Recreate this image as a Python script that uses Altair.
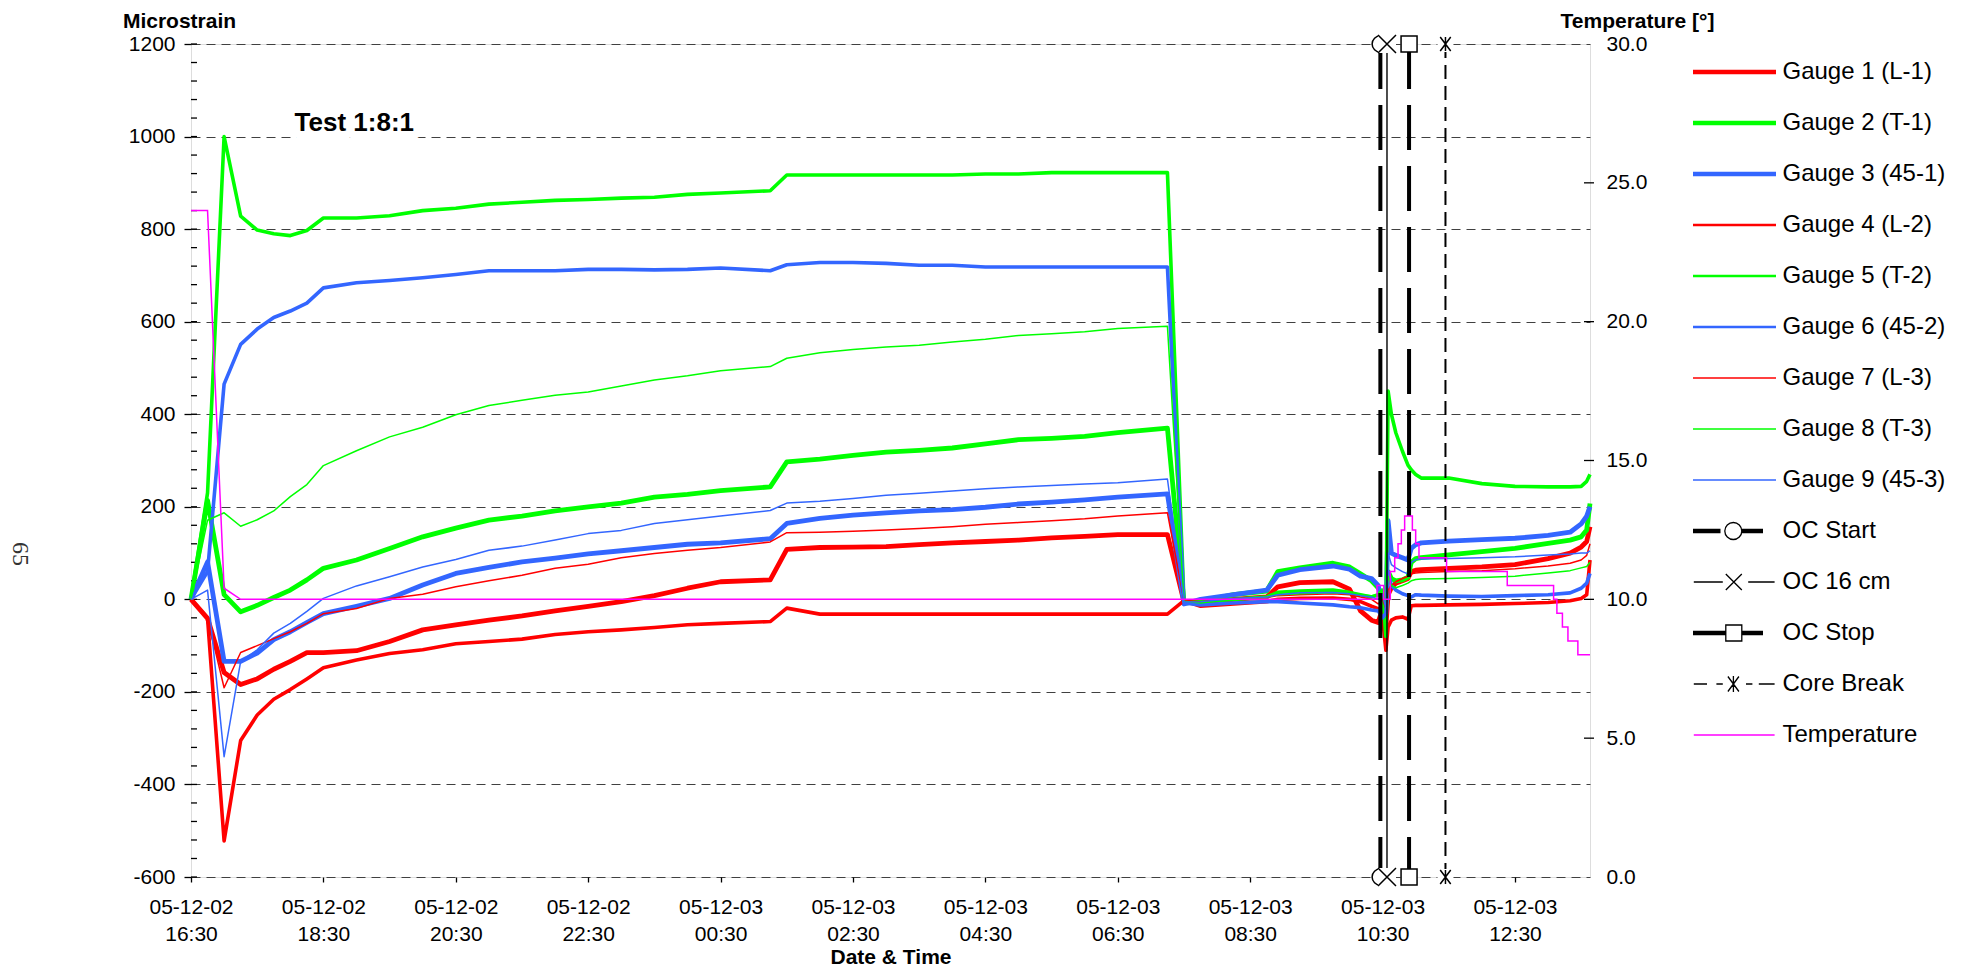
import altair as alt
import pandas as pd

# ---------------- data ----------------
SERIES = ["Gauge 1 (L-1)", "Gauge 2 (T-1)", "Gauge 3 (45-1)",
          "Gauge 4 (L-2)", "Gauge 5 (T-2)", "Gauge 6 (45-2)",
          "Gauge 7 (L-3)", "Gauge 8 (T-3)", "Gauge 9 (45-3)",
          "OC Start", "OC 16 cm", "OC Stop", "Core Break", "Temperature"]
SERIES_COLORS = ["#ff0000", "#00ff00", "#3366ff",
                 "#ff0000", "#00ff00", "#3366ff",
                 "#ff0000", "#00ff00", "#3366ff",
                 "#000000", "#000000", "#000000", "#000000", "#ff00ff"]

# 15-minute readings before the reset, then the dense record after it
E_TIMES = ["16:30", "16:45", "17:00", "17:15", "17:30", "17:45", "18:00", "18:15", "18:30",
           "19:00", "19:30", "20:00", "20:30", "21:00", "21:30", "22:00", "22:30", "23:00",
           "23:30", "00:00", "00:30", "01:15", "01:30", "02:00", "02:30", "03:00", "03:30",
           "04:00", "04:30", "05:00", "05:30", "06:00", "06:30", "07:15", "07:30"]
D_TIMES = ["07:45", "08:15", "08:45", "08:55", "09:15", "09:45", "10:00", "10:10", "10:20",
           "10:26", "10:30", "10:33", "10:35", "10:38", "10:42", "10:48", "10:53", "10:56",
           "11:00", "11:05", "11:30", "12:00", "12:30", "13:00", "13:20", "13:30", "13:35", "13:38"]

G1_E = [0, -41, -158, -184, -172, -151, -134, -115, -115, -111, -91, -66, -55, -45, -36, -25, -15, -5,
        8, 24, 38, 42, 108, 112, 113, 114, 118, 122, 125, 128, 133, 136, 140, 140, -5]
G1_D = [-8, 0, 5, 27, 36, 38, 22, -25, -45, -50, -20, -60, 10, 25, 35, 40, 45, 60, 63, 64, 67, 70,
        75, 88, 100, 113, 125, 157]
G2_E = [0, 214, 10, -27, -13, 4, 20, 42, 67, 85, 110, 135, 154, 171, 180, 191, 200, 208, 221, 227,
        235, 243, 297, 303, 311, 318, 322, 327, 336, 345, 348, 352, 360, 370, -8]
G2_D = [-5, 10, 18, 60, 68, 78, 70, 55, 40, 25, 10, -20, 60, 45, 40, 42, 48, 80, 88, 90, 96, 103,
        110, 121, 128, 135, 150, 207]
G3_E = [0, 81, -134, -134, -116, -87, -70, -50, -31, -15, 2, 31, 56, 69, 81, 89, 98, 105, 112, 119,
        122, 131, 164, 175, 182, 187, 191, 194, 199, 206, 210, 215, 221, 228, -10]
G3_D = [0, 10, 20, 52, 64, 72, 65, 50, 45, 30, -10, -30, 170, 100, 95, 90, 85, 110, 118, 122, 126,
        129, 132, 138, 145, 163, 180, 200]
G4_E = [0, -41, -522, -305, -250, -216, -195, -172, -148, -131, -117, -109, -96, -91, -86, -76, -70,
        -66, -61, -55, -52, -48, -19, -32, -32, -32, -32, -32, -32, -32, -32, -32, -32, -32, -3]
G4_D = [-15, -10, -5, 0, 2, 3, 0, -5, -15, -20, -40, -110, -60, -45, -40, -38, -43, -14, -13, -13,
        -12, -11, -9, -7, -3, 2, 10, 85]
G5_E = [0, 230, 1000, 828, 798, 790, 786, 797, 824, 824, 829, 840, 845, 854, 858, 862, 864, 867, 869,
        875, 878, 883, 917, 917, 917, 917, 917, 917, 919, 919, 922, 922, 922, 922, -5]
G5_D = [-5, 0, 5, 15, 18, 20, 15, 10, 5, 10, 20, -80, 450, 400, 360, 320, 290, 280, 270, 262, 262,
        250, 244, 243, 243, 244, 255, 270]
G6_E = [0, 60, 465, 551, 584, 609, 623, 640, 673, 684, 689, 695, 702, 710, 710, 710, 713, 713, 712,
        713, 716, 710, 723, 728, 728, 726, 722, 722, 718, 718, 718, 718, 718, 718, -8]
G6_D = [-12, -8, -5, -5, -8, -12, -16, -18, -23, -25, -40, -30, 60, 30, 20, 12, 8, 5, 10, 9, 7, 6, 8,
        10, 14, 24, 35, 56]
G7_E = [0, -41, -191, -115, -100, -85, -70, -52, -31, -20, 2, 11, 27, 40, 52, 67, 76, 90, 99, 106,
        112, 124, 144, 145, 147, 150, 153, 157, 162, 166, 170, 174, 180, 187, -2]
G7_D = [-5, 2, 4, 8, 10, 12, 10, 5, 0, -10, 0, -20, 20, 30, 38, 45, 50, 55, 57, 58, 60, 62, 66, 72,
        78, 85, 95, 120]
G8_E = [0, 171, 187, 158, 172, 191, 222, 248, 289, 321, 351, 372, 399, 419, 430, 441, 448, 461, 474,
        483, 494, 503, 521, 533, 540, 545, 549, 556, 562, 570, 574, 578, 585, 590, -4]
G8_D = [-8, 0, 5, 10, 12, 14, 12, 10, 8, 10, 5, -10, 50, 30, 25, 30, 35, 40, 43, 44, 45, 47, 50, 57,
        62, 68, 71, 80]
G9_E = [0, 20, -340, -134, -109, -73, -52, -26, 2, 29, 49, 70, 86, 106, 115, 128, 142, 149, 164, 172,
        180, 192, 208, 212, 218, 225, 229, 234, 239, 243, 246, 249, 252, 260, -6]
G9_D = [-5, 2, 5, 10, 14, 15, 12, 8, 5, 0, 10, -20, 100, 75, 68, 60, 55, 80, 86, 87, 88, 90, 92, 96,
        98, 100, 100, 105]

TEMP_TIMES = ["16:30", "16:45", "17:00", "17:15", "10:25", "10:25", "10:31", "10:31", "10:37", "10:37",
              "10:41", "10:41", "10:44", "10:44", "10:47", "10:47", "10:50", "10:50", "10:57", "10:57",
              "11:00", "11:00", "11:03", "11:03", "11:28", "11:28", "12:23", "12:23", "13:05", "13:05",
              "13:08", "13:08", "13:13", "13:13", "13:18", "13:18", "13:27", "13:27", "13:38"]
TEMP_VALUES = [24.0, 24.0, 10.4, 10.0, 10.0, 10.5, 10.5, 10.0, 10.0, 11.0, 11.0, 11.5, 11.5, 12.0,
               12.0, 12.5, 12.5, 13.0, 13.0, 12.5, 12.5, 12.0, 12.0, 11.5, 11.5, 11.0, 11.0, 10.5,
               10.5, 10.0, 10.0, 9.5, 9.5, 9.0, 9.0, 8.5, 8.5, 8.0, 8.0]

OC_EVENTS = ["OC Start", "OC 16 cm", "OC Stop", "Core Break"]
OC_TIMES = ["10:28", "10:34", "10:54", "11:27"]

X_DOMAIN = ["16:30", "13:38"]
X_TICKS = ["16:30", "18:30", "20:30", "22:30", "00:30", "02:30", "04:30", "06:30", "08:30", "10:30", "12:30"]
Y_DOMAIN = [-600, 1200]
Y_TICKS = [-600, -400, -200, 0, 200, 400, 600, 800, 1000, 1200]
Y_MINOR = list(range(-600, 1201, 40))
T_DOMAIN = [0, 30]
T_TICKS = [0, 5, 10, 15, 20, 25, 30]
T_INNER_TICKS = [5, 10, 15, 20, 25]

ANNOT_TEXT = ["Test 1:8:1"]
ANNOT_TIME = ["18:58"]
ANNOT_VALUE = [1030]
PAGE_NUMBER = "65"


# ---------------- helpers ----------------
def stamp(hm):
    h = int(hm[:2])
    day = "02" if h >= 16 else "03"
    return f"2005-12-{day}T{hm}:00"


def dt(hm):
    h, m = (int(p) for p in hm.split(":"))
    return alt.DateTime(year=2005, month=12, date=2 if h >= 16 else 3, hours=h, minutes=m)


TIMES = E_TIMES + D_TIMES
GAUGES = [G1_E + G1_D, G2_E + G2_D, G3_E + G3_D, G4_E + G4_D, G5_E + G5_D,
          G6_E + G6_D, G7_E + G7_D, G8_E + G8_D, G9_E + G9_D]
rows = []
for name, vals in zip(SERIES[:9], GAUGES):
    assert len(vals) == len(TIMES), name
    for i, (hm, v) in enumerate(zip(TIMES, vals)):
        rows.append({"series": name, "t": stamp(hm), "v": v, "i": i})
gauge_df = pd.DataFrame(rows)

temp_df = pd.DataFrame({"series": "Temperature", "t": [stamp(h) for h in TEMP_TIMES],
                        "temp": TEMP_VALUES, "i": range(len(TEMP_TIMES))})
oc_df = pd.DataFrame({"event": OC_EVENTS, "t": [stamp(h) for h in OC_TIMES]})
mk_df = pd.DataFrame([{"event": e, "t": stamp(h), "v": y}
                      for e, h in zip(OC_EVENTS, OC_TIMES) for y in Y_DOMAIN])
minor_df = pd.DataFrame({"t": stamp(X_DOMAIN[0]), "v": Y_MINOR})
tinner_df = pd.DataFrame({"t": stamp(X_DOMAIN[1]), "temp": T_INNER_TICKS})
annot_df = pd.DataFrame({"label": ANNOT_TEXT, "t": [stamp(h) for h in ANNOT_TIME], "v": ANNOT_VALUE})
page_df = pd.DataFrame({"label": [PAGE_NUMBER]})

# ---------------- scales, axes, legend ----------------
FONT = "Liberation Sans"
XSCALE = alt.Scale(domain=[dt(X_DOMAIN[0]), dt(X_DOMAIN[1])], nice=False)
YSCALE = alt.Scale(domain=Y_DOMAIN, nice=False, zero=False)
TSCALE = alt.Scale(domain=T_DOMAIN, nice=False, zero=False)

XAXIS = alt.Axis(values=[dt(h) for h in X_TICKS],
                 labelExpr="[timeFormat(datum.value, '%y-%m-%d'), timeFormat(datum.value, '%H:%M')]",
                 labelFont=FONT, labelFontSize=21, labelLineHeight=27, labelPadding=14,
                 labelFlush=False, labelOverlap=False, labelColor="black",
                 tickSize=5, tickWidth=1.3, tickColor="black", domain=False, grid=False,
                 title="Date & Time", titleFont=FONT, titleFontSize=21, titleFontWeight="bold",
                 titleColor="black", titleY=86, titleBaseline="alphabetic")
YAXIS = alt.Axis(values=Y_TICKS, labelExpr="'' + datum.value",
                 labelFont=FONT, labelFontSize=21, labelPadding=9, labelColor="black",
                 tickSize=7, tickWidth=1.3, tickColor="black", domain=False,
                 grid=True, gridDash=[9, 6], gridColor="#404040", gridWidth=1.2,
                 title="Microstrain", titleFont=FONT, titleFontSize=21, titleFontWeight="bold",
                 titleColor="black", titleAngle=0, titleX=-12, titleY=-16.5,
                 titleAlign="center", titleBaseline="alphabetic")
TAXIS = alt.Axis(orient="right", values=T_TICKS, format=".1f",
                 labelFont=FONT, labelFontSize=21, labelPadding=16, labelColor="black",
                 ticks=False, domain=False, grid=False,
                 title="Temperature [°]", titleFont=FONT, titleFontSize=21, titleFontWeight="bold",
                 titleColor="black", titleAngle=0, titleX=47, titleY=-16.5,
                 titleAlign="center", titleBaseline="alphabetic")

# legend swatches: custom symbol paths (1 unit = 10 px)
THICK = "M-4.15,-0.15H4.15M-4.15,-0.05H4.15M-4.15,0.05H4.15M-4.15,0.15H4.15"
MED = "M-4.15,-0.07H4.15M-4.15,0.07H4.15"
THIN = "M-4.15,0H4.15"
SYM_START = ("M-4.15,-0.15H-1.4M-4.15,-0.05H-1.4M-4.15,0.05H-1.4M-4.15,0.15H-1.4"
             "M0.73,-0.15H2.85M0.73,-0.05H2.85M0.73,0.05H2.85M0.73,0.15H2.85"
             "M-0.97,0A0.85,0.85 0 1,0 0.73,0A0.85,0.85 0 1,0 -0.97,0")
SYM_16 = "M-4.07,0H-1.17M-0.87,-0.8L0.73,0.8M-0.87,0.8L0.73,-0.8M1.37,0H4.01"
SYM_STOP = ("M-4.15,-0.15H-0.87M-4.15,-0.05H-0.87M-4.15,0.05H-0.87M-4.15,0.15H-0.87"
            "M-0.87,-0.8H0.73V0.8H-0.87Z"
            "M0.73,-0.15H2.85M0.73,-0.05H2.85M0.73,0.05H2.85M0.73,0.15H2.85")
SYM_CORE = ("M-4.07,0H-2.75M-1.81,0H-1.17M-0.66,-0.75L0.44,0.75M-0.66,0.75L0.44,-0.75"
            "M-0.11,-0.8V0.8M1.15,0H1.79M2.43,0H4.01")
SYM_TEMP = "M-4.07,0H4.01"
LEGEND_SHAPES = [THICK, THICK, THICK, MED, MED, MED, THIN, THIN, THIN,
                 SYM_START, SYM_16, SYM_STOP, SYM_CORE, SYM_TEMP]

COLOR_SCALE = alt.Scale(domain=SERIES, range=SERIES_COLORS)
SHAPE_SCALE = alt.Scale(domain=SERIES, range=LEGEND_SHAPES)
LEG = alt.Legend(title=None, orient="none", direction="vertical", columns=1,
                 legendX=1502, legendY=16, padding=0,
                 symbolSize=400, symbolStrokeWidth=1.3, symbolOffset=29.5, symbolOpacity=1,
                 symbolFillColor="white",
                 labelOffset=36, labelFont=FONT, labelFontSize=24, labelColor="black",
                 labelLimit=400, rowPadding=27)


def X(field="t"):
    return alt.X(f"{field}:T", scale=XSCALE, axis=XAXIS)


def Y(field="v"):
    return alt.Y(f"{field}:Q", scale=YSCALE, axis=YAXIS)


def T(field="temp"):
    return alt.Y(f"{field}:Q", scale=TSCALE, axis=TAXIS)


COLOR = alt.Color("series:N", scale=COLOR_SCALE, legend=LEG)

# ---------------- layers ----------------
phantom = alt.Chart(alt.Data(values=[])).mark_point().encode(
    color=COLOR, shape=alt.Shape("series:N", scale=SHAPE_SCALE, legend=LEG))

minor = alt.Chart(minor_df).mark_tick(orient="horizontal", size=6, thickness=1.3, color="black",
                                      opacity=1, xOffset=3).encode(x=X(), y=Y())

# white halo behind the annotation (the gridline is interrupted there in the reference)
annot_halo = alt.Chart(annot_df).mark_text(font=FONT, fontSize=26, fontWeight="bold", color="white",
                                           stroke="white", strokeWidth=16, strokeJoin="round",
                                           align="center", baseline="middle").encode(
    x=X(), y=Y(), text="label:N")


def gauge_layer(names, width):
    return alt.Chart(gauge_df).transform_filter(
        alt.FieldOneOfPredicate(field="series", oneOf=names)
    ).mark_line(strokeWidth=width, strokeJoin="round").encode(
        x=X(), y=Y(), color=COLOR, detail="series:N", order="i:Q")


thick = gauge_layer(SERIES[0:3], 4.8)
medium = gauge_layer(SERIES[3:6], 3.6)
thin = gauge_layer(SERIES[6:9], 1.5)


def rule(event, width, dash=None):
    kw = dict(color="black", strokeWidth=width)
    if dash:
        kw["strokeDash"] = dash
    return alt.Chart(oc_df).transform_filter(alt.datum.event == event).mark_rule(**kw).encode(x=X())


rules = [rule("OC Start", 4, [45, 16]), rule("OC 16 cm", 1.4),
         rule("OC Stop", 4, [45, 16]), rule("Core Break", 2, [14, 7])]


def marker(event, shape, size, filled, fill="white", stroke="black", sw=1.5):
    kw = dict(shape=shape, size=size, opacity=1, strokeWidth=sw, filled=filled)
    if filled:
        kw["fill"] = fill
    if stroke:
        kw["stroke"] = stroke
    return alt.Chart(mk_df).transform_filter(alt.datum.event == event).mark_point(**kw).encode(
        x=X(), y=Y())


X_SHAPE = "M-1,-1L1,1M-1,1L1,-1"
AST_SHAPE = "M-0.75,-1L0.75,1M-0.75,1L0.75,-1M0,-1V1"
markers = [
    marker("OC Start", "circle", 272, True),
    marker("OC 16 cm", "square", 324, True, stroke=None, sw=0),
    marker("OC 16 cm", X_SHAPE, 324, False),
    marker("OC Stop", "square", 256, True),
    marker("Core Break", "square", 256, True, stroke=None, sw=0),
    marker("Core Break", AST_SHAPE, 196, False),
]

annot = alt.Chart(annot_df).mark_text(font=FONT, fontSize=26, fontWeight="bold", color="black",
                                      align="center", baseline="middle").encode(
    x=X(), y=Y(), text="label:N")

# page number printed sideways in the left margin of the scanned page
page = alt.Chart(page_df).mark_text(font="Liberation Serif", fontSize=24, color="#333333",
                                    angle=90, align="center", baseline="middle").encode(
    x=alt.value(-171), y=alt.value(510), text="label:N")

strain = alt.layer(phantom, minor, annot_halo, thick, medium, thin, *rules, *markers, annot, page)

temp_line = alt.Chart(temp_df).mark_line(strokeWidth=1.5).encode(
    x=X(), y=T(), color=COLOR, order="i:Q")
temp_ticks = alt.Chart(tinner_df).mark_tick(orient="horizontal", size=10, thickness=1.3,
                                            color="black", opacity=1, xOffset=-1).encode(x=X(), y=T())
temp = alt.layer(temp_line, temp_ticks)

chart = alt.layer(strain, temp).resolve_scale(y="independent").properties(
    width=1399, height=833,
    autosize=alt.AutoSizeParams(type="none"),
    padding={"left": 183, "top": 36, "right": 355, "bottom": 91},
).configure_view(stroke="black", strokeWidth=3.5).configure(font=FONT)

chart.save("out.html", embed_options={"renderer": "svg", "actions": False})
